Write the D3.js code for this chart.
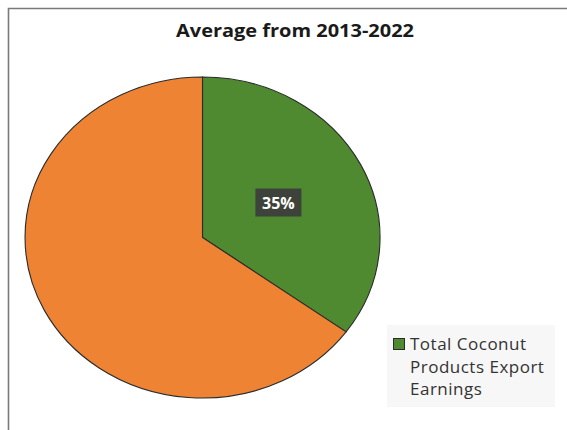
<!DOCTYPE html>
<html>
<head>
<meta charset="utf-8">
<script src="https://cdn.jsdelivr.net/npm/d3@7"></script>
<style>
  html, body { margin: 0; padding: 0; background: #fff; }
  svg { display: block; }
</style>
</head>
<body>
<svg id="chart" width="567" height="430"></svg>
<script>
// Share of coconut products in total export earnings, 2013-2022 average
const categories = ["Total Coconut Products Export Earnings", "Other Export Earnings"];
const shares = [35, 65];
const colors = ["#4f8a30", "#ee8433"];
const legendLines = ["Total Coconut", "Products Export", "Earnings"];
const titleText = "Average from 2013-2022";

const svg = d3.select("#chart");
const W = 567, H = 430;
const font = "'Open Sans', 'Liberation Sans', sans-serif";

// chart frame
svg.append("path")
  .attr("d", `M8.5,${H} V8.5 H${W}`)
  .attr("fill", "none")
  .attr("stroke", "#7a7a7a")
  .attr("stroke-width", 1.6);

svg.append("text")
  .attr("x", 295)
  .attr("y", 37)
  .attr("text-anchor", "middle")
  .attr("font-family", font)
  .attr("font-weight", "bold")
  .attr("font-size", 18.5)
  .attr("textLength", 238)
  .attr("lengthAdjust", "spacingAndGlyphs")
  .attr("fill", "#1a1a1a")
  .text(titleText);

// pie, drawn as a circle of radius 1 and stretched to the plot ellipse
const cx = 202.5, cy = 237.5, rx = 177.5, ry = 160.5;
const data = categories.map((c, i) => ({ name: c, value: shares[i], color: colors[i] }));
const pie = d3.pie().value(d => d.value).sort(null);
const arcs = pie(data);
const arc = d3.arc().innerRadius(0).outerRadius(1);

const g = svg.append("g").attr("transform", `translate(${cx},${cy})`);
g.selectAll("path.slice")
  .data(arcs)
  .join("path")
  .attr("class", "slice")
  .attr("d", arc)
  .attr("transform", `scale(${rx},${ry})`)
  .attr("fill", d => d.data.color)
  .attr("stroke", "#2b2b2b")
  .attr("stroke-width", 1.1)
  .attr("vector-effect", "non-scaling-stroke");

// value label on the first slice
const labelArc = d3.arc().innerRadius(0.48).outerRadius(0.48);
const first = arcs[0];
const [lx0, ly0] = labelArc.centroid(first);
const lx = lx0 * rx, ly = ly0 * ry;
const lab = g.append("g").attr("transform", `translate(${lx},${ly})`);
lab.append("rect")
  .attr("x", -23).attr("y", -14)
  .attr("width", 46).attr("height", 28)
  .attr("fill", "#3c3c3c")
  .attr("fill-opacity", 0.92);
lab.append("text")
  .attr("text-anchor", "middle")
  .attr("y", 6)
  .attr("font-family", font)
  .attr("font-weight", "bold")
  .attr("font-size", 16)
  .attr("fill", "#ffffff")
  .text(d3.format(".0f")(first.data.value) + "%");

// legend
const leg = svg.append("g");
leg.append("rect")
  .attr("x", 387).attr("y", 325)
  .attr("width", 168).attr("height", 82)
  .attr("fill", "#f7f7f7");
leg.append("rect")
  .attr("x", 393.5).attr("y", 338.5)
  .attr("width", 11).attr("height", 11)
  .attr("fill", colors[0])
  .attr("stroke", "#2b2b2b")
  .attr("stroke-width", 1);
leg.selectAll("text.leg")
  .data(legendLines)
  .join("text")
  .attr("class", "leg")
  .attr("x", 410)
  .attr("y", (d, i) => 350 + i * 22.5)
  .attr("font-family", font)
  .attr("font-size", 17)
  .attr("letter-spacing", 0.5)
  .attr("fill", "#333")
  .text(d => d);
</script>
</body>
</html>
